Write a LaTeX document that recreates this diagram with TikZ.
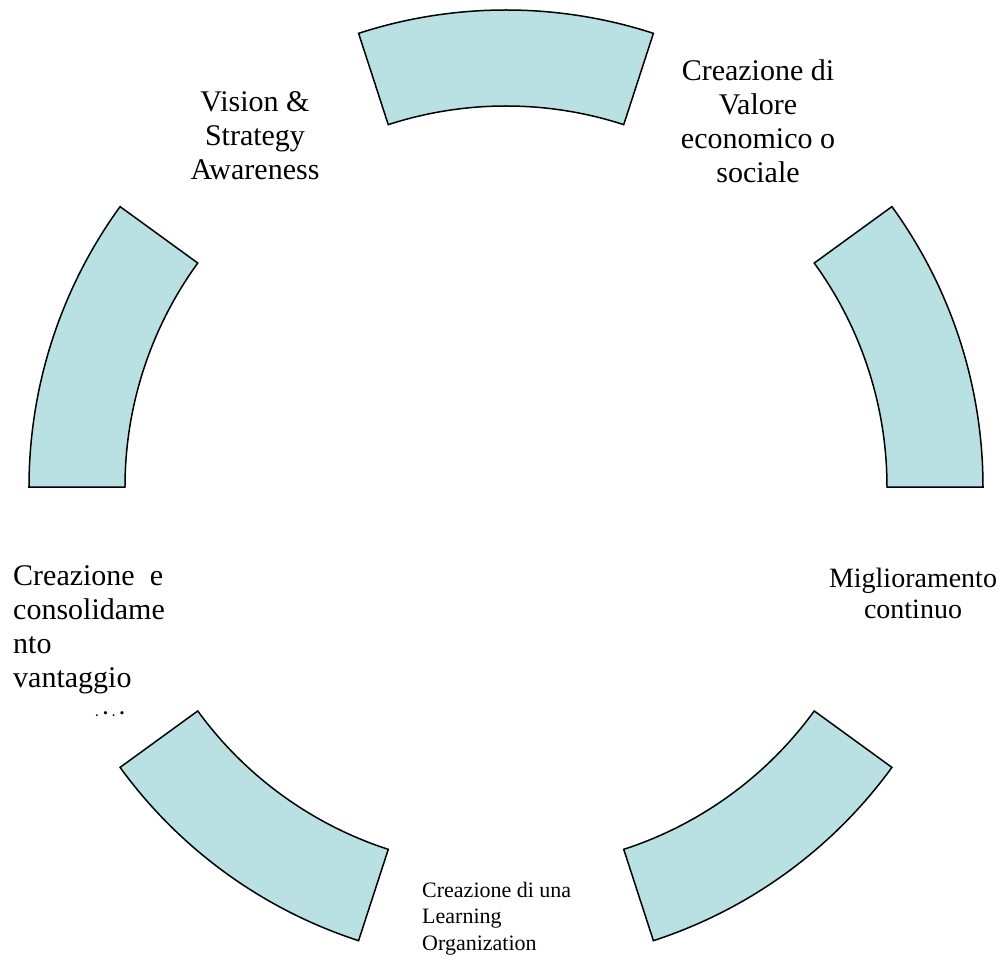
\documentclass[tikz,border=0pt]{standalone}
\usepackage{fontspec}
\setmainfont{Liberation Serif}
\definecolor{segfill}{RGB}{185,224,227}

\begin{document}
\begin{tikzpicture}[x=1pt,y=1pt]
  \tikzstyle{segment}=[fill=segfill,draw=black,line width=1.5pt]
  \tikzstyle{bigtext}=[inner sep=0pt,anchor=base,align=center,font=\fontsize{30}{34}\selectfont]
  \tikzstyle{smalltext}=[inner sep=0pt,anchor=base west,align=left,font=\fontsize{22}{26.5}\selectfont]
  \useasboundingbox (-506,-469) rectangle (498,487);

  % five ring segments, 36 degrees each
  \foreach \a in {0,72,...,288}
    \draw[segment] (\a:477) arc[start angle=\a, end angle=\a+36, radius=477]
      -- (\a+36:381) arc[start angle=\a+36, end angle=\a, radius=381] -- cycle;

  \node[bigtext] (vision) at (-251,307) {Vision \&\\Strategy\\Awareness};
  \node[bigtext] (valore) at (252,304) {Creazione di\\Valore\\economico o\\sociale};
  \node[bigtext,font=\fontsize{28}{31}\selectfont] (miglio) at (407,-131) {Miglioramento\\continuo};
  \begin{scope}
    \clip (-506,-228) rectangle (-200,200);
    \node[bigtext,anchor=base west,align=left] (vantaggio) at (-493,-244)
      {Creazione~~e\\consolidame\\nto\\vantaggio\\[10pt]competitivo};
  \end{scope}
  \node[smalltext] (learning) at (-84,-463) {Creazione di una\\Learning\\Organization};
\end{tikzpicture}
\end{document}
